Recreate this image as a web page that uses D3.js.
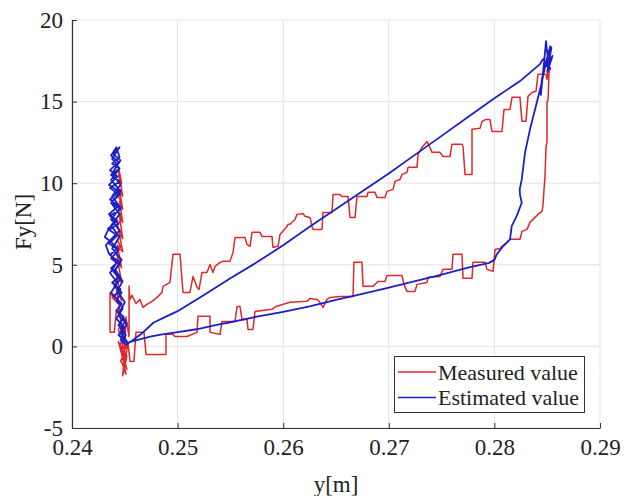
<!DOCTYPE html>
<html>
<head>
<meta charset="utf-8">
<script src="https://cdn.jsdelivr.net/npm/d3@7/dist/d3.min.js"></script>
<style>
  html, body { margin: 0; padding: 0; background: #ffffff; }
  svg { display: block; }
  svg text { font-family: 'Liberation Serif', 'Times New Roman', serif; fill: #222; }
</style>
</head>
<body>
<svg id="chart" width="627" height="496"></svg>
<script>
// ---------------- DATA ----------------
const xTicks = [0.24, 0.25, 0.26, 0.27, 0.28, 0.29];
const yTicks = [-5, 0, 5, 10, 15, 20];
const xLabel = "y[m]";
const yLabel = "Fy[N]";
const seriesNames = ["Measured value", "Estimated value"];

// Measured value (red), traced in path order
const measuredClusterA = [
  [0.24440,10.8],[0.24460,10.1],[0.24440,10.5],[0.24470,9.7],[0.24440,9.2],[0.24470,8.8],
  [0.24440,8.3],[0.24470,7.9],[0.24430,7.4],[0.24460,7.0],[0.24430,6.5],[0.24460,6.1],
  [0.24420,5.6],[0.24460,5.2],[0.24410,4.7],[0.24450,4.3],[0.24400,3.8],[0.24460,3.4],
  [0.24380,3.0],[0.24440,2.6],[0.24360,3.3],[0.24360,0.86],[0.24400,0.86],[0.24420,2.2],
  [0.24470,1.6],[0.24440,1.0],[0.24480,0.5],[0.24450,0.0],[0.24490,-0.5],[0.24460,-0.9],
  [0.24500,-1.3],[0.24470,-0.3],[0.24510,-1.7],[0.24480,-1.1],[0.24520,-0.6],[0.24490,-1.5],
  [0.24530,0.2],[0.24500,-0.2],[0.24473,0.25]
];
const measuredLower = [
  [0.24473,0.25],[0.24530,0.25],[0.24549,-0.92],[0.24587,-0.92],[0.24606,0.86],[0.24682,0.86],
  [0.24701,-0.49],[0.24890,-0.49],[0.24890,0.74],[0.24956,0.74],[0.24975,0.61],[0.25089,0.61],
  [0.25184,0.86],[0.25193,1.84],[0.25307,1.84],[0.25307,0.86],[0.25402,0.74],[0.25420,1.53],
  [0.25544,1.53],[0.25563,2.45],[0.25591,2.45],[0.25610,1.65],[0.25657,1.65],[0.25667,1.04],
  [0.25714,1.04],[0.25733,2.14],[0.25894,2.27],[0.25932,2.45],[0.26064,2.70],[0.26225,2.76],
  [0.26254,2.94],[0.26320,2.88],[0.26348,2.70],[0.26377,2.39],[0.26415,2.88],[0.26443,3.00],
  [0.26538,3.06],[0.26661,3.06],[0.26670,5.15],[0.26746,5.15],[0.26756,3.68],[0.26850,3.68],
  [0.26898,3.98],[0.26964,3.98],[0.26983,4.35],[0.27125,4.35],[0.27144,3.80],[0.27172,3.37],
  [0.27248,3.37],[0.27267,3.80],[0.27362,3.92],[0.27371,4.23],[0.27485,4.29],[0.27513,4.72],
  [0.27598,4.72],[0.27608,5.64],[0.27693,5.64],[0.27703,4.17],[0.27788,4.17],[0.27797,5.15],
  [0.27911,5.15],[0.27930,4.72],[0.27987,4.60],[0.28006,5.94],[0.28053,6.00],[0.28072,6.13],
  [0.28119,6.37],[0.28148,6.56],[0.28242,6.56],[0.28261,7.05],[0.28309,7.17],[0.28337,7.60],
  [0.28413,8.09],[0.28451,8.27]
];
const measuredRise = [
  [0.28460,8.64],[0.28470,9.62],[0.28479,10.42],[0.28489,12.25],[0.28498,12.50],[0.28498,14.95],
  [0.28508,15.13],[0.28517,16.79],[0.28527,17.10],[0.28508,16.48],[0.28517,17.22],[0.28498,16.36],
  [0.28489,16.67]
];
const measuredUpper = [
  [0.28413,16.67],[0.28394,15.63],[0.28356,15.56],[0.28318,15.32],[0.28299,13.79],[0.28261,13.79],
  [0.28242,15.26],[0.28167,15.26],[0.28148,14.52],[0.28091,14.52],[0.28072,13.17],[0.27977,13.17],
  [0.27958,13.91],[0.27920,13.91],[0.27883,13.79],[0.27864,13.36],[0.27788,13.30],[0.27788,10.54],
  [0.27722,10.54],[0.27703,12.25],[0.27693,12.38],[0.27598,12.38],[0.27580,11.64],[0.27513,11.64],
  [0.27485,11.89],[0.27409,11.89],[0.27390,12.19],[0.27362,12.56],[0.27314,12.19],[0.27277,11.76],
  [0.27267,10.97],[0.27182,10.97],[0.27172,10.66],[0.27125,10.54],[0.27106,10.23],[0.27059,10.11],
  [0.27040,9.62],[0.26983,9.50],[0.26964,9.13],[0.26888,9.13],[0.26869,9.44],[0.26803,9.44],
  [0.26794,9.19],[0.26699,9.19],[0.26680,7.90],[0.26633,7.90],[0.26614,9.19],[0.26557,9.19],
  [0.26538,9.31],[0.26472,9.31],[0.26462,8.21],[0.26377,8.21],[0.26367,7.17],[0.26282,7.17],
  [0.26273,7.35],[0.26254,7.90],[0.26206,7.97],[0.26188,8.15],[0.26131,8.09],[0.26112,7.78],
  [0.26064,7.48],[0.26045,7.48],[0.26036,7.35],[0.25970,6.86],[0.25951,6.13],[0.25903,6.07],
  [0.25894,6.74],[0.25799,6.74],[0.25780,6.99],[0.25705,6.99],[0.25686,6.13],[0.25657,6.25],
  [0.25638,6.68],[0.25544,6.68],[0.25525,5.76],[0.25496,5.21],[0.25430,5.21],[0.25402,5.15],
  [0.25354,4.90],[0.25335,4.53],[0.25307,5.02],[0.25278,4.53],[0.25231,4.53],[0.25203,3.49],
  [0.25184,3.62],[0.25146,4.29],[0.25117,3.31],[0.25051,3.31],[0.25023,5.64],[0.24956,5.64],
  [0.24928,3.92],[0.24862,3.68],[0.24852,3.31],[0.24805,3.00],[0.24758,2.76],[0.24710,2.57],
  [0.24672,2.39],[0.24644,2.88],[0.24606,2.63],[0.24568,3.13],[0.24549,2.88]
];
const measuredClusterB = [
  [0.24540,3.7],[0.24540,0.6],[0.24510,1.8],[0.24500,-0.4],[0.24480,-1.8],[0.24500,-1.2],
  [0.24470,-0.2],[0.24520,-1.4],[0.24460,0.0],[0.24510,-0.6],[0.24440,0.3],[0.24490,-1.0],
  [0.24460,1.6],[0.24490,0.4],[0.24440,2.4],[0.24480,1.0],[0.24420,3.6],[0.24470,2.8],
  [0.24420,4.4],[0.24470,3.9],[0.24430,5.4],[0.24470,4.8],[0.24430,6.2],[0.24480,5.8],
  [0.24440,7.2],[0.24480,6.6],[0.24450,8.0],[0.24480,7.6],[0.24450,8.9],[0.24480,8.4],
  [0.24450,9.6],[0.24480,9.2],[0.24450,10.4],[0.24470,10.0],[0.24440,11.0]
];

// Estimated value (blue), traced in path order
const estimatedClusterA = [
  [0.2448,0.2],[0.2451,0.7],[0.2446,1.1],[0.2450,1.5],[0.2444,1.9],[0.2448,2.4],[0.2442,2.8],
  [0.2447,3.3],[0.2440,3.7],[0.2446,4.1],[0.2439,4.6],[0.2445,5.0],[0.2437,5.4],[0.2444,5.9],
  [0.2435,6.3],[0.2443,6.8],[0.2434,7.2],[0.2443,7.7],[0.2435,8.1],[0.2444,8.6],[0.2436,9.0],
  [0.2444,9.5],[0.2435,9.9],[0.2443,10.4],[0.2436,10.8],[0.2444,11.3],[0.2437,11.7],[0.2442,12.2],
  [0.2445,11.6],[0.2438,11.2],[0.2445,10.9],[0.2437,10.5],[0.2445,10.1],[0.2436,9.7],[0.2445,9.3],
  [0.2437,8.8],[0.2446,8.4],[0.2436,8.0],[0.2444,7.5],[0.2434,7.1],[0.2431,6.7],[0.2437,6.4],
  [0.2443,6.0],[0.2436,5.6],[0.2444,5.2],[0.2437,4.8],[0.2445,4.3],[0.2438,3.9],[0.2446,3.5],
  [0.2440,3.1],[0.2447,2.6],[0.2442,2.2],[0.2449,1.8],[0.2444,1.3],[0.2450,0.9],[0.2446,0.4],
  [0.2451,0.1],[0.2453,0.2],[0.2456,0.3]
];
const estimatedLower = [
  [0.2456,0.30],[0.2465,0.45],[0.2475,0.62],[0.2487,0.75],[0.2500,0.88],[0.2518,1.05],
  [0.2537,1.32],[0.2550,1.48],[0.2575,1.82],[0.2600,2.12],[0.2625,2.45],[0.2650,2.85],
  [0.2675,3.22],[0.2700,3.60],[0.2725,4.00],[0.2750,4.40],[0.2775,4.82],[0.2795,5.12],
  [0.2800,5.30]
];
const estimatedRise = [
  [0.28022,5.64],[0.28084,6.15],[0.28148,6.56],[0.28164,7.37],[0.28211,7.98],[0.28259,8.80],
  [0.28242,9.30],[0.28240,9.62],[0.28259,10.23],[0.28290,11.87],[0.28337,13.30],[0.28401,14.93],
  [0.28448,16.16],[0.28495,17.59]
];
const estimatedTop = [
  [0.28520,18.2],[0.28470,17.0],[0.28530,18.4],[0.28450,16.4],[0.28440,15.4],[0.28489,18.7],
  [0.28500,18.0],[0.28510,17.3],[0.28540,18.3],[0.28500,16.8],[0.28550,17.8],[0.28490,17.2],
  [0.28530,17.0],[0.28460,17.6],[0.28432,17.3]
];
const estimatedUpper = [
  [0.28432,17.30],[0.2825,16.30],[0.2800,15.20],[0.2775,14.05],[0.2750,12.90],[0.2725,11.75],
  [0.2700,10.60],[0.2675,9.50],[0.2650,8.42],[0.2625,7.33],[0.2600,6.20],[0.2575,5.15],
  [0.2550,4.18],[0.2525,3.15],[0.2500,2.16],[0.2487,1.76],[0.2477,1.45],[0.2467,0.84],
  [0.2460,0.50],[0.2457,0.35]
];
const estimatedClusterB = [
  [0.2453,0.2],[0.2447,0.8],[0.2452,1.4],[0.2445,2.1],[0.2450,2.7],[0.2443,3.4],[0.2448,4.0],
  [0.2441,4.7],[0.2447,5.3],[0.2438,6.0],[0.2445,6.7],[0.2437,7.4],[0.2445,8.1],[0.2437,8.8],
  [0.2446,9.5],[0.2437,10.2],[0.2445,10.9],[0.2438,11.5],[0.2445,12.2],[0.2439,11.8],[0.2446,11.4],
  [0.2438,10.6],[0.2446,9.9],[0.2438,9.2],[0.2446,8.5],[0.2437,7.8],[0.2445,7.1],[0.2436,6.5],
  [0.2432,6.2],[0.2435,5.7],[0.2442,5.1],[0.2436,4.5],[0.2443,3.9],[0.2437,3.3],[0.2444,2.8],
  [0.2448,2.3],[0.2442,1.7],[0.2449,1.2],[0.2444,0.7],[0.2451,0.3],[0.2453,0.2]
];

const colors = ["#e0282a", "#1c20c8"];

// ---------------- CHART ----------------
const svg = d3.select("#chart");
const mLeft = 72, mRight = 600, mTop = 20, mBottom = 428;
const x = d3.scaleLinear().domain([0.24, 0.29]).range([mLeft, mRight]);
const y = d3.scaleLinear().domain([-5, 20]).range([mBottom, mTop]);
const font = "Liberation Serif, Times New Roman, serif";

// grid
const grid = svg.append("g").attr("stroke", "#e3e3e3").attr("stroke-width", 1);
grid.selectAll("line.v").data(xTicks).join("line").attr("class", "v")
  .attr("x1", d => x(d)).attr("x2", d => x(d)).attr("y1", mTop).attr("y2", mBottom);
grid.selectAll("line.h").data(yTicks).join("line").attr("class", "h")
  .attr("x1", mLeft).attr("x2", mRight).attr("y1", d => y(d)).attr("y2", d => y(d));

// data lines
const line = d3.line().x(d => x(d[0])).y(d => y(d[1]));
const measured = [].concat(measuredClusterA, measuredLower, measuredRise, measuredUpper, measuredClusterB);
const estimated = [].concat(estimatedClusterA, estimatedLower, estimatedRise, estimatedTop, estimatedUpper, estimatedClusterB);

const plot = svg.append("g");
plot.append("path").datum(measured).attr("d", line)
  .attr("fill", "none").attr("stroke", colors[0]).attr("stroke-width", 1.5)
  .attr("stroke-linejoin", "round");
plot.append("path").datum(estimated).attr("d", line)
  .attr("fill", "none").attr("stroke", colors[1]).attr("stroke-width", 1.8)
  .attr("stroke-linejoin", "round");

// axes
const xAxis = d3.axisBottom(x).tickValues(xTicks).tickFormat(d3.format(".2f"))
  .tickSizeInner(-5).tickSizeOuter(0).tickPadding(11);
const yAxis = d3.axisLeft(y).tickValues(yTicks).tickFormat(d => String(d))
  .tickSizeInner(-5).tickSizeOuter(0).tickPadding(9);

const gx = svg.append("g").attr("transform", `translate(0,${mBottom})`).call(xAxis);
const gy = svg.append("g").attr("transform", `translate(${mLeft},0)`).call(yAxis);
[gx, gy].forEach(g => {
  g.attr("font-family", font).attr("font-size", 23);
  g.select(".domain").attr("stroke", "#333").attr("stroke-width", 1.2);
  g.selectAll(".tick line").attr("stroke", "#333");
  g.selectAll(".tick text").attr("fill", "#222");
});

// axis labels
svg.append("text").attr("x", (mLeft + mRight) / 2).attr("y", 492)
  .attr("text-anchor", "middle").attr("font-size", 23)
  .text(xLabel);
svg.append("text").attr("transform", `translate(31,222) rotate(-90)`)
  .attr("text-anchor", "middle").attr("font-size", 23)
  .text(yLabel);

// legend
const lg = svg.append("g");
lg.append("rect").attr("x", 394.5).attr("y", 356.5).attr("width", 190).attr("height", 56)
  .attr("fill", "#fff").attr("stroke", "#333").attr("stroke-width", 1);
seriesNames.forEach((name, i) => {
  const ly = 372 + i * 25.5;
  lg.append("line").attr("x1", 398).attr("x2", 436).attr("y1", ly).attr("y2", ly)
    .attr("stroke", colors[i]).attr("stroke-width", 1.6);
  lg.append("text").attr("x", 438).attr("y", ly + 7.5)
    .attr("font-size", 22).text(name);
});
</script>
</body>
</html>
